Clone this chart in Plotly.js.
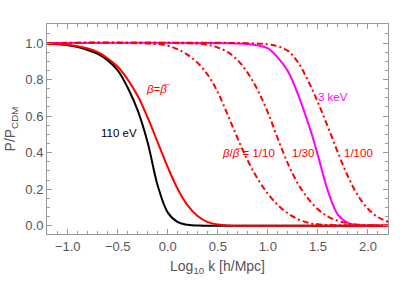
<!DOCTYPE html>
<html>
<head>
<meta charset="utf-8">
<script src="https://cdn.plot.ly/plotly-3.0.1.min.js"></script>
<style>html,body{margin:0;padding:0;background:#fff;}#plot{width:414px;height:283px;}</style>
</head>
<body>
<div id="plot"></div>
<script>
// 110 eV (black)
var blackX = [-1.21, -1.0, -0.9, -0.8, -0.7, -0.6, -0.5, -0.4, -0.3, -0.2, -0.1, 0.0, 0.1, 0.2, 0.3, 0.5, 2.21];
var blackY = [0.997, 0.988, 0.978, 0.962, 0.94, 0.905, 0.85, 0.755, 0.63, 0.453, 0.218, 0.072, 0.02, 0.005, 0.001, 0.0, 0.0];
// beta = beta-bar (red solid)
var redX = [-1.21, -1.0, -0.9, -0.8, -0.7, -0.6, -0.5, -0.4, -0.3, -0.2, -0.1, 0.0, 0.1, 0.2, 0.3, 0.4, 0.5, 0.6, 0.8, 2.21];
var redY = [0.998, 0.99, 0.982, 0.97, 0.95, 0.915, 0.87, 0.8, 0.71, 0.59, 0.455, 0.32, 0.2, 0.11, 0.052, 0.02, 0.007, 0.002, 0.0, 0.0];
// beta/beta-bar = 1/10
var r10X = [-1.21, -0.2, 0.0, 0.1, 0.2, 0.3, 0.4, 0.5, 0.6, 0.7, 0.8, 0.9, 1.0, 1.1, 1.2, 1.3, 1.4, 1.5, 1.7, 2.21];
var r10Y = [1.0, 0.997, 0.985, 0.965, 0.935, 0.89, 0.825, 0.73, 0.605, 0.475, 0.355, 0.255, 0.175, 0.113, 0.068, 0.036, 0.017, 0.008, 0.003, 0.001];
// beta/beta-bar = 1/30
var r30X = [-1.21, 0.2, 0.4, 0.5, 0.6, 0.7, 0.8, 0.9, 1.0, 1.1, 1.2, 1.3, 1.4, 1.5, 1.6, 1.7, 1.8, 1.9, 2.21];
var r30Y = [1.0, 0.998, 0.99, 0.975, 0.95, 0.905, 0.835, 0.74, 0.62, 0.475, 0.34, 0.23, 0.15, 0.09, 0.05, 0.027, 0.013, 0.006, 0.001];
// beta/beta-bar = 1/100
var r100X = [-1.21, 0.8, 1.0, 1.1, 1.2, 1.3, 1.4, 1.5, 1.6, 1.7, 1.8, 1.9, 2.0, 2.1, 2.21];
var r100Y = [1.0, 0.999, 0.993, 0.982, 0.957, 0.895, 0.795, 0.675, 0.54, 0.4, 0.27, 0.165, 0.093, 0.047, 0.02];
// 3 keV (magenta)
var kevX = [-1.21, 0.6, 0.8, 0.9, 1.0, 1.1, 1.2, 1.3, 1.4, 1.45, 1.5, 1.6, 1.7, 1.8, 1.9, 2.0, 2.21];
var kevY = [1.0, 0.999, 0.995, 0.987, 0.97, 0.92, 0.845, 0.72, 0.565, 0.48, 0.385, 0.19, 0.06, 0.016, 0.003, 0.0, 0.0];

var xTickVals = [-1.0, -0.5, 0.0, 0.5, 1.0, 1.5, 2.0];
var yTickVals = [0.0, 0.2, 0.4, 0.6, 0.8, 1.0];

var dd = '6px,3px,2px,3px';
function tr(x, y, color, dash) {
  return {x: x, y: y, type: 'scatter', mode: 'lines',
    line: {color: color, width: 2, dash: dash || 'solid', shape: 'spline', smoothing: 1},
    hoverinfo: 'skip', showlegend: false};
}
var data = [
  tr(blackX, blackY, '#000000'),
  tr(kevX, kevY, '#ff00ff'),
  tr(r10X, r10Y, '#ff0000', dd),
  tr(r30X, r30Y, '#ff0000', dd),
  tr(r100X, r100Y, '#ff0000', dd),
  tr(redX, redY, '#ff0000')
];

var grey = '#555555';
var frame = '#9a9a9a';
function ann(x, y, text, color) {
  return {x: x, y: y, xref: 'x', yref: 'y', text: text, showarrow: false,
    font: {family: 'Liberation Sans, Arial, sans-serif', size: 11.5, color: color},
    xanchor: 'center', yanchor: 'middle'};
}
var layout = {
  width: 414, height: 283,
  margin: {l: 47, r: 26, t: 24, b: 49},
  paper_bgcolor: '#ffffff', plot_bgcolor: '#ffffff',
  font: {family: 'Liberation Sans, Arial, sans-serif', size: 13, color: grey},
  xaxis: {
    range: [-1.207, 2.2], tickvals: xTickVals, tickformat: '.1f',
    showgrid: false, zeroline: false, showline: true, linecolor: frame, linewidth: 1,
    mirror: 'ticks', ticks: 'inside', ticklen: 5, tickcolor: frame, tickwidth: 1,
    minor: {dtick: 0.1, tick0: 0, ticks: 'inside', ticklen: 3, tickcolor: frame, showgrid: false},
    tickfont: {size: 13, color: grey},
    title: {text: 'Log<sub>10</sub> k [h/Mpc]', font: {size: 14, color: grey}, standoff: 8}
  },
  yaxis: {
    range: [-0.045, 1.104], tickvals: yTickVals, tickformat: '.1f',
    showgrid: false, zeroline: false, showline: true, linecolor: frame, linewidth: 1,
    mirror: 'ticks', ticks: 'inside', ticklen: 5, tickcolor: frame, tickwidth: 1,
    minor: {dtick: 0.05, tick0: 0, ticks: 'inside', ticklen: 3, tickcolor: frame, showgrid: false},
    tickfont: {size: 13, color: grey},
    title: {text: 'P/P<sub>CDM</sub>', font: {size: 14, color: grey}, standoff: 6}
  },
  annotations: [
    ann(-0.488, 0.508, '110 eV', '#000000'),
    ann(-0.093, 0.749, '<i>β</i>=<i>β̅</i>', '#ff0000'),
    ann(0.802, 0.398, '<i>β</i>/<i>β̅</i> = 1/10', '#ff0000'),
    ann(1.352, 0.398, '1/30', '#ff0000'),
    ann(1.902, 0.398, '1/100', '#ff0000'),
    ann(1.652, 0.705, '3 keV', '#ff00ff')
  ]
};
Plotly.newPlot('plot', data, layout, {displayModeBar: false, staticPlot: true});
</script>
</body>
</html>
